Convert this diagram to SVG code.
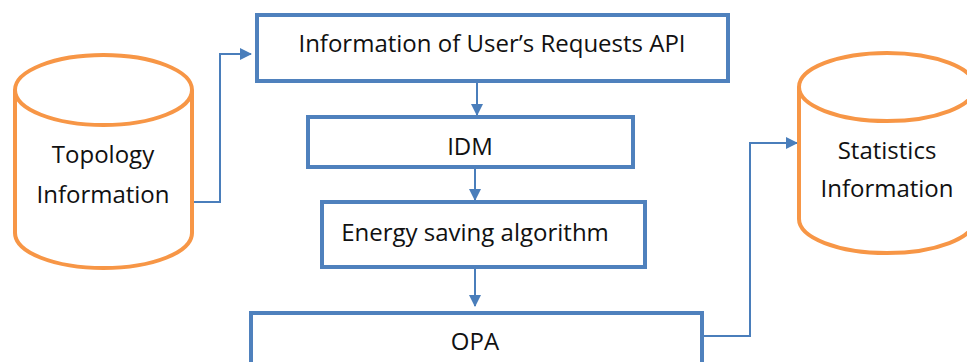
<svg xmlns="http://www.w3.org/2000/svg" width="967" height="362" viewBox="0 0 967 362">
<style>
.box{fill:#fff;stroke:#4F81BD;stroke-width:4}
.cyl{fill:#fff;stroke:#F79646;stroke-width:4}
.con{fill:none;stroke:#4A7EBB;stroke-width:2}
text{font-family:"Open Sans","Liberation Sans",sans-serif;font-size:24px;fill:#111;text-anchor:middle}
</style>
<defs>
<marker id="ah" markerWidth="12" markerHeight="12" refX="11" refY="6" orient="auto" markerUnits="userSpaceOnUse">
<path d="M0,0 L12,6 L0,12 Z" fill="#4A7EBB"/>
</marker>
</defs>
<rect width="967" height="362" fill="#fff"/>
<g id="connectors">
<polyline class="con" points="192,202 220,202 220,54 251,54" marker-end="url(#ah)"/>
<line class="con" x1="477" y1="81" x2="477" y2="115" marker-end="url(#ah)"/>
<line class="con" x1="475" y1="167" x2="475" y2="200" marker-end="url(#ah)"/>
<line class="con" x1="475" y1="267" x2="475" y2="306" marker-end="url(#ah)"/>
<polyline class="con" points="702,336 750,336 750,143 797,143" marker-end="url(#ah)"/>
</g>
<g id="topology">
<path class="cyl" d="M15,90 L15,233 A88.5,35 0 0 0 192,233 L192,90"/>
<ellipse class="cyl" cx="103.5" cy="90" rx="88.5" ry="35"/>
<text x="103" y="163">Topology</text>
<text x="103" y="203">Information</text>
</g>
<g id="api">
<rect class="box" x="257" y="15" width="471" height="66"/>
<text x="492" y="52">Information of User’s Requests API</text>
</g>
<g id="idm">
<rect class="box" x="308" y="117" width="325" height="50"/>
<text x="470" y="155">IDM</text>
</g>
<g id="energy">
<rect class="box" x="322" y="202" width="323" height="65"/>
<text x="475" y="241">Energy saving algorithm</text>
</g>
<g id="opa">
<rect class="box" x="251" y="313" width="451" height="70"/>
<text x="475" y="350">OPA</text>
</g>
<g id="statistics">
<path class="cyl" d="M799,87 L799,219 A88,34 0 0 0 975,219 L975,87"/>
<ellipse class="cyl" cx="887" cy="87" rx="88" ry="34"/>
<text x="887" y="159">Statistics</text>
<text x="887" y="197">Information</text>
</g>
</svg>
